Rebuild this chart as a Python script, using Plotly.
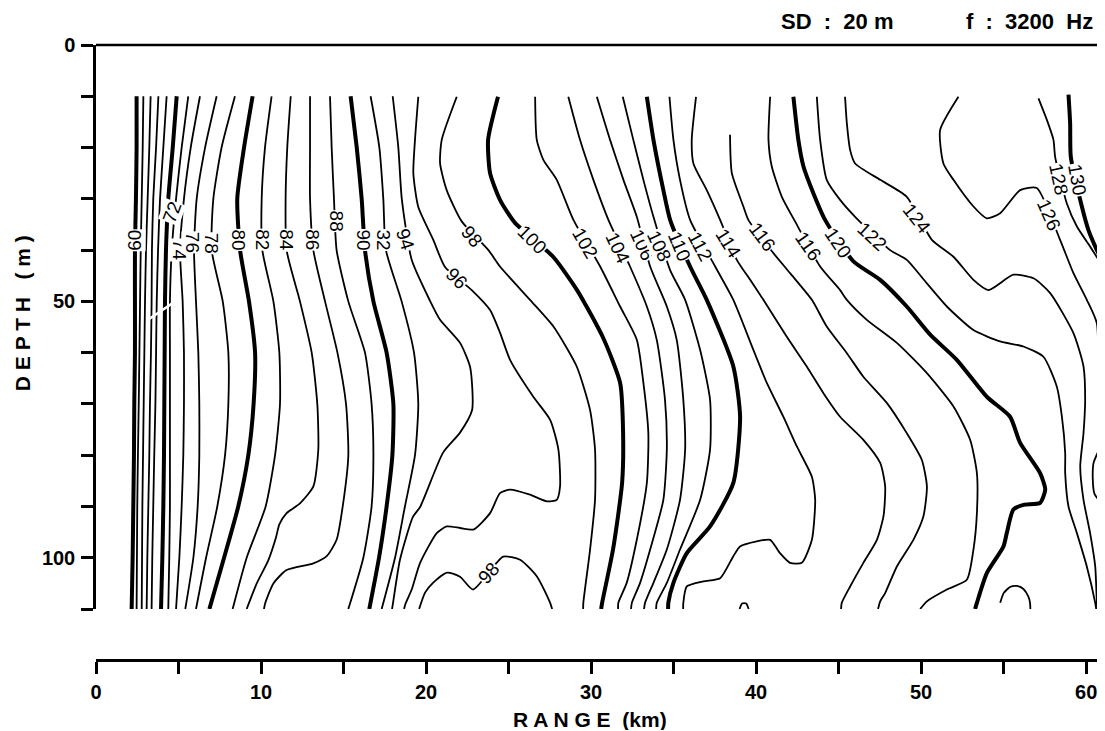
import plotly.graph_objects as go

# ---------------- data: range (km) of each TL contour at given depths (m) ----------------
depth_grid = [10, 20, 30, 40, 50, 60, 70, 80, 90, 100, 110]

r60 = [2.46, 2.46, 2.42, 2.36, 2.36, 2.36, 2.32, 2.30, 2.26, 2.22, 2.16]
r62 = [2.87, 2.83, 2.77, 2.71, 2.67, 2.63, 2.59, 2.54, 2.50, 2.48, 2.46]
r64 = [3.31, 3.23, 3.13, 3.03, 2.97, 2.93, 2.89, 2.85, 2.81, 2.79, 2.77]
r66 = [3.78, 3.64, 3.47, 3.39, 3.37, 3.33, 3.27, 3.23, 3.17, 3.11, 3.07]
r68 = [4.28, 4.08, 3.88, 3.76, 3.68, 3.64, 3.60, 3.53, 3.47, 3.41, 3.37]
r70 = [4.89, 4.65, 4.38, 4.24, 4.18, 4.16, 4.14, 4.12, 4.08, 4.02, 3.94]
r72 = [5.59, 5.19, 4.85, 4.59, 4.48, 4.48, 4.48, 4.48, 4.48, 4.44, 4.38]
r74 = [6.30, 5.74, 5.33, 5.09, 5.25, 5.33, 5.33, 5.29, 5.19, 5.05, 4.85]
r76 = [7.31, 6.61, 6.10, 5.94, 6.06, 6.20, 6.26, 6.26, 6.16, 5.90, 5.41]
r78 = [8.42, 7.61, 7.11, 7.01, 7.68, 8.02, 8.02, 7.82, 7.35, 6.67, 6.06]
r80 = [9.49, 8.97, 8.56, 8.73, 9.27, 9.64, 9.55, 9.23, 8.62, 7.76, 6.87]
r82 = [10.64, 10.24, 10.04, 10.08, 10.75, 11.11, 11.15, 10.85, 10.28, 9.13, 8.28]
r88 = [14.18, 14.28, 14.42, 14.58, 15.29, 16.30, 16.70, 16.81, 16.70, 16.20, 15.29]
r90 = [15.43, 15.80, 16.10, 16.30, 16.81, 17.61, 18.02, 17.96, 17.61, 17.15, 16.56]
r92 = [16.64, 17.17, 17.41, 17.57, 18.52, 19.27, 19.53, 19.33, 18.72, 18.12, 17.31]

d84 = [10, 20, 30, 40, 50, 60, 70, 79, 86.1, 89.4, 91.3, 93.5, 96, 100.5, 105, 110]
r84 = [11.80, 11.59, 11.49, 11.55, 12.36, 13.07, 13.41, 13.47, 13.17, 12.36, 11.55, 11.11, 10.91, 10.44, 9.74, 9.13]

d86 = [10, 20, 30, 40, 50, 60, 70, 80, 90, 96.5, 99.7, 101.1, 102.4, 105, 109, 110]
r86 = [12.97, 12.97, 12.97, 13.17, 13.88, 14.63, 15.15, 15.29, 14.95, 14.58, 13.98, 13.17, 11.55, 10.75, 10.24, 10.18]

d94 = [10.0, 20.0, 30.0, 41.9, 49.9, 53.6, 58.1, 62.8, 71.2, 75.6, 79.5, 90.1, 92.0, 100.4, 108.8, 110]
r94 = [17.98, 18.32, 18.53, 19.13, 20.24, 20.85, 22.06, 22.67, 22.79, 22.06, 21.03, 19.64, 19.21, 18.42, 18.00, 17.94]

d96 = [10.1, 18.5, 25.0, 31.6, 38.0, 43.3, 47.8, 51.7, 56.1, 61.4, 68.6, 73.1, 78.9, 86.1, 88.7, 89.0,
       87.7, 86.7, 87.4, 91.3, 94.5, 94.2, 93.9, 95.2, 101.0, 106.2, 109.2, 110]
r96 = [19.53, 19.33, 19.23, 19.53, 20.44, 21.15, 22.77, 23.88, 24.48, 25.09, 26.50, 27.52, 28.02, 28.12, 27.92, 27.32,
       26.30, 25.09, 24.48, 23.88, 22.87, 22.06, 21.25, 20.65, 19.64, 19.13, 18.73, 18.67]

d98 = [10.1, 18.5, 23.1, 28.3, 34.4, 40.0, 43.2, 49.7, 54.9, 62.7, 71.2, 78.9, 88.7, 98.4, 108.8, 110]
r98 = [21.86, 20.95, 20.85, 21.25, 22.16, 23.78, 24.48, 26.30, 27.72, 29.13, 29.94, 30.24, 30.24, 29.94, 29.53, 29.52]

d98b = [110, 106.8, 104.9, 102.9, 103.7, 106.2, 99.8, 100.4, 103.7, 108.8, 110]
r98b = [19.58, 19.94, 20.42, 21.27, 22.06, 22.85, 24.67, 25.70, 26.73, 27.52, 27.64]

d100 = [10.1, 18.5, 25.0, 30.2, 34.7, 41.3, 47.8, 57.1, 65.9, 75.6, 85.4, 98.4, 108.8, 110]
r100 = [24.36, 23.76, 23.88, 24.48, 25.39, 27.70, 29.15, 30.73, 31.76, 31.94, 31.88, 31.33, 30.67, 30.61]

d102 = [10.1, 18.5, 22.4, 26.3, 34.1, 43.2, 51.0, 57.5, 65.9, 75.7, 85.4, 96.5, 104.9, 108.8, 110]
r102 = [26.61, 26.71, 27.11, 27.92, 28.93, 30.55, 31.76, 32.77, 33.17, 33.47, 33.38, 32.77, 32.16, 31.65, 31.64]

d104 = [10.1, 18.5, 26.3, 34.1, 43.2, 51.0, 57.5, 69.2, 78.9, 88.7, 98.4, 104.9, 108.8, 110]
r104 = [28.62, 29.33, 30.14, 31.05, 32.36, 33.38, 33.98, 34.48, 34.59, 34.38, 33.58, 32.97, 32.47, 32.42]

d106 = [10.1, 18.5, 26.3, 33.5, 43.2, 51.0, 57.5, 69.2, 78.9, 88.7, 98.4, 104.9, 108.8, 110]
r106 = [30.35, 31.15, 31.96, 32.77, 33.58, 34.59, 35.19, 35.59, 35.70, 35.39, 34.59, 33.78, 33.27, 33.21]

d108 = [10.1, 18.5, 26.3, 33.5, 43.9, 49.7, 59.5, 69.2, 78.9, 88.7, 98.4, 104.9, 108.8, 110]
r108 = [31.92, 32.56, 33.17, 33.78, 34.79, 35.70, 36.61, 37.21, 37.21, 36.61, 35.39, 34.59, 33.98, 33.94]

d110 = [10.1, 18.5, 28.3, 34.1, 43.2, 49.7, 62.7, 72.5, 85.4, 93.9, 99.1, 104.9, 108.8, 110]
r110 = [33.38, 33.78, 34.38, 34.79, 36.00, 37.01, 38.62, 39.03, 38.62, 37.21, 35.80, 34.99, 34.68, 34.67]

d112 = [10.1, 18.5, 26.3, 34.1, 43.2, 49.7, 59.5, 65.9, 72.5, 78.3, 84.2, 88.7, 96.5, 101.0, 101.0, 99.1,
        96.5, 96.8, 97.8, 99.7, 104.0, 104.6, 105.6, 108.8, 110]
r112 = [34.75, 34.99, 35.39, 36.00, 37.52, 38.62, 39.84, 40.65, 41.65, 42.47, 43.38, 43.58, 43.38, 42.77, 42.06, 41.45,
        40.85, 40.04, 39.03, 38.62, 37.82, 36.81, 35.80, 35.59, 35.58]

d114 = [10.1, 18.5, 23.1, 28.3, 34.1, 41.9, 45.8, 49.7, 56.9, 62.7, 67.9, 72.5, 77.0, 81.5, 86.1, 91.9,
        96.5, 101.0, 105.6, 108.8, 110]
r114 = [36.36, 36.10, 36.20, 37.01, 37.82, 38.83, 39.64, 40.44, 41.86, 43.07, 44.08, 45.09, 46.50, 47.52, 47.82, 47.72,
        47.32, 46.50, 45.70, 45.19, 45.15]

d116 = [17.5, 25.0, 31.5, 34.1, 40.6, 44.5, 49.7, 54.9, 60.1, 64.7, 69.8, 75.7, 80.9, 86.1, 91.9, 96.5,
        101.7, 106.9, 108.5, 110]
r116 = [38.42, 38.53, 39.23, 39.53, 41.05, 42.06, 43.38, 44.28, 45.50, 46.50, 47.92, 49.13, 50.04, 50.35, 50.14, 49.53,
        48.53, 47.82, 47.52, 47.39]

d118 = [10.1, 18.5, 23.7, 29.6, 34.4, 43.2, 47.8, 49.7, 53.6, 58.1, 64.0, 70.5, 77.0, 83.5, 91.3, 98.4,
        104.3, 106.2, 108.5, 110]
r118 = [40.85, 40.75, 40.95, 41.56, 42.36, 43.88, 45.09, 45.50, 46.71, 48.53, 50.35, 51.96, 52.97, 53.38, 53.38, 53.17,
        52.77, 51.56, 50.35, 49.94]

d120 = [10.1, 18.5, 23.7, 28.9, 34.1, 42.2, 45.8, 51.0, 56.5, 61.4, 68.6, 72.5, 77.6, 83.5, 86.7, 89.3,
        89.7, 90.6, 95.2, 97.8, 103.0, 108.8, 110]
r120 = [42.26, 42.56, 42.87, 43.47, 44.18, 45.90, 47.52, 49.13, 50.55, 52.16, 53.98, 55.39, 56.00, 57.21, 57.52, 57.21,
        56.20, 55.59, 55.19, 54.99, 53.98, 53.38, 53.27]

d122 = [10.1, 18.5, 26.3, 30.2, 33.5, 40.0, 41.9, 46.5, 51.0, 55.6, 57.8, 58.8, 60.8, 66.6, 72.5, 79.6,
        83.5, 90.0, 95.2, 101.7, 108.8, 110]
r122 = [43.68, 43.88, 44.28, 45.09, 46.00, 48.12, 49.13, 50.35, 51.56, 53.17, 54.79, 56.20, 57.41, 58.22, 58.53, 58.73,
        58.73, 58.93, 59.44, 60.04, 60.55, 60.61]

d124 = [10.1, 15.3, 20.5, 23.1, 26.3, 29.6, 38.0, 41.3, 45.8, 47.8, 44.8, 45.5, 48.4, 56.2, 62.7, 69.2,
        75.7, 82.2, 88.7, 95.2, 101.7, 108.8, 110]
r124 = [45.39, 45.50, 45.70, 46.00, 47.52, 49.13, 50.65, 51.96, 53.17, 54.08, 55.59, 56.81, 57.82, 59.23, 59.84, 59.94,
        59.84, 59.64, 59.84, 60.24, 60.55, 60.65, 60.68]

d126 = [10.1, 16.6, 23.1, 26.3, 31.5, 33.8, 32.8, 28.3, 27.9, 38.0, 44.5, 49.7, 54.3, 69.2, 90, 110]
r126 = [52.26, 51.15, 51.35, 51.96, 53.17, 53.98, 54.79, 56.00, 57.01, 58.42, 59.23, 60.04, 60.65, 60.73, 60.76, 60.79]

d128 = [10.4, 14.6, 18.5, 21.8, 30.9, 35.4, 39.3, 41.9]
r128 = [57.11, 57.62, 58.02, 58.12, 58.83, 59.44, 60.24, 60.75]

d130 = [9.7, 15.3, 21.8, 31.5, 36.1, 40.0, 41.3]
r130 = [58.93, 59.03, 59.07, 59.74, 60.14, 60.65, 60.85]

# small closed pieces near the bottom / right edge
d_dome = [108.8, 106.9, 105.7, 105.5, 106.1, 107.6, 108.8, 110]
r_dome = [54.79, 55.00, 55.39, 55.80, 56.20, 56.50, 56.60, 56.62]
d_tiny = [110, 108.9, 108.9, 110]
r_tiny = [39.00, 39.15, 39.40, 39.55]
d_loop = [79.5, 81.5, 84.5, 87.5, 88.5]
r_loop = [60.70, 60.45, 60.40, 60.50, 60.70]

# contour labels
label_text = ["60", "72", "74", "76", "78", "80", "82", "84", "86", "88", "90", "32", "94", "96", "98",
              "100", "102", "104", "106", "108", "110", "112", "114", "116", "116", "120", "122", "124",
              "126", "128", "130", "98"]
label_km = [2.36, 4.61, 5.10, 5.85, 7.01, 8.63, 10.04, 11.55, 13.07, 14.59, 16.20, 17.41, 18.73, 21.86, 22.77,
            26.41, 29.64, 31.65, 33.07, 34.14, 35.35, 36.61, 38.32, 40.34, 43.17, 44.99, 47.01, 49.74,
            57.72, 58.32, 59.44, 23.76]
label_m = [38.0, 32.7, 40.0, 38.5, 38.7, 38.0, 38.0, 38.0, 38.0, 34.4, 38.0, 38.0, 38.0, 45.5, 37.4,
           38.0, 38.7, 39.6, 39.0, 39.3, 39.3, 39.3, 38.7, 37.4, 39.3, 38.7, 37.4, 33.8,
           33.1, 26.3, 26.3, 103.0]
label_angle = [-90, -70, 90, 90, 90, 90, 90, 90, 90, 90, 90, 90, 72, 45, 50,
               45, 60, 65, 65, 65, 67, 62, 58, 53, 55, 56, 43, 52,
               66, 78, 80, -48]

x_tick_vals = [0, 5, 10, 15, 20, 25, 30, 35, 40, 45, 50, 55, 60]
x_tick_text = ["0", "", "10", "", "20", "", "30", "", "40", "", "50", "", "60"]
y_tick_vals = [0, 10, 20, 30, 40, 50, 60, 70, 80, 90, 100, 110]
y_tick_text = ["0", "", "", "", "", "50", "", "", "", "", "100", ""]

# ---------------- figure ----------------
contours = [
    (60, r60, depth_grid), (62, r62, depth_grid), (64, r64, depth_grid), (66, r66, depth_grid),
    (68, r68, depth_grid), (70, r70, depth_grid), (72, r72, depth_grid), (74, r74, depth_grid),
    (76, r76, depth_grid), (78, r78, depth_grid), (80, r80, depth_grid), (82, r82, depth_grid),
    (84, r84, d84), (86, r86, d86), (88, r88, depth_grid), (90, r90, depth_grid), (92, r92, depth_grid),
    (94, r94, d94), (96, r96, d96), (98, r98, d98), (98, r98b, d98b), (100, r100, d100),
    (102, r102, d102), (104, r104, d104), (106, r106, d106), (108, r108, d108), (110, r110, d110),
    (112, r112, d112), (114, r114, d114), (116, r116, d116), (118, r118, d118), (120, r120, d120),
    (122, r122, d122), (124, r124, d124), (126, r126, d126), (128, r128, d128), (130, r130, d130),
    (121, r_dome, d_dome), (111, r_tiny, d_tiny), (125, r_loop, d_loop),
]

fig = go.Figure()
for level, xs, ys in contours:
    thick = level % 10 == 0
    fig.add_trace(go.Scatter(
        x=xs, y=ys, mode="lines",
        line=dict(color="black", width=4.0 if thick else 1.8, shape="spline", smoothing=0.6),
        hoverinfo="skip", showlegend=False,
    ))

# white scratch across the left-hand bundle, as in the scanned original
fig.add_trace(go.Scatter(x=[3.15, 4.67], y=[53.6, 50.3], mode="lines",
                         line=dict(color="white", width=2.5), hoverinfo="skip", showlegend=False))

label_font = dict(family="Liberation Sans Narrow, Liberation Sans, Arial", size=19, color="black")
for t, xk, ym, ang in zip(label_text, label_km, label_m, label_angle):
    fig.add_annotation(x=xk, y=ym, xref="x", yref="y", text=t, showarrow=False,
                       textangle=ang, font=label_font, bgcolor="white", borderpad=0)

bold = dict(family="Liberation Sans, Arial", size=19, color="black", weight="bold")

fig.add_annotation(x=0.737, y=1.0374, xref="paper", yref="paper", text="SD &nbsp;: &nbsp;20 m",
                   showarrow=False, font=dict(bold, size=22), xanchor="center", yanchor="middle")
fig.add_annotation(x=0.929, y=1.0374, xref="paper", yref="paper", text="f &nbsp;: &nbsp;3200 &nbsp;Hz",
                   showarrow=False, font=dict(bold, size=22), xanchor="center", yanchor="middle")
fig.add_annotation(x=-0.0736, y=0.564, xref="paper", yref="paper",
                   text="D E P T H &nbsp; ( m )", textangle=-90,
                   showarrow=False, font=dict(bold, size=21), xanchor="center", yanchor="middle")
fig.add_annotation(x=0.4915, y=-0.097, xref="paper", yref="paper",
                   text="R A N G E &nbsp;(km)",
                   showarrow=False, font=dict(bold, size=21), xanchor="center", yanchor="middle")

fig.add_shape(type="line", xref="paper", yref="paper", x0=0, x1=1, y0=1, y1=1,
              line=dict(color="black", width=2.5))
fig.add_shape(type="line", xref="paper", yref="paper", x0=1, x1=1, y0=0.0829, y1=1,
              line=dict(color="black", width=2.5))

# the page body adds an 8 px margin, so the figure is 8 px smaller and margins are shifted
fig.update_layout(
    width=1096, height=722, autosize=False,
    margin=dict(l=88, r=3, t=37, b=70),
    paper_bgcolor="white", plot_bgcolor="white",
    showlegend=False, hovermode=False,
    xaxis=dict(range=[0, 60.9], anchor="free", position=0, showline=True, linecolor="black",
               linewidth=2.5, ticks="outside", ticklen=12, tickwidth=2.5, tickcolor="black",
               tickvals=x_tick_vals, ticktext=x_tick_text, tickfont=dict(bold, size=20),
               showgrid=False, zeroline=False, ticklabelstandoff=1),
    yaxis=dict(domain=[0.0829, 1], range=[110, 0], showline=True, linecolor="black",
               linewidth=2.5, ticks="outside", ticklen=12, tickwidth=2.5, tickcolor="black",
               tickvals=y_tick_vals, ticktext=y_tick_text, tickfont=dict(bold, size=20),
               showgrid=False, zeroline=False, ticklabelstandoff=2),
)

fig.write_html("out.html")
